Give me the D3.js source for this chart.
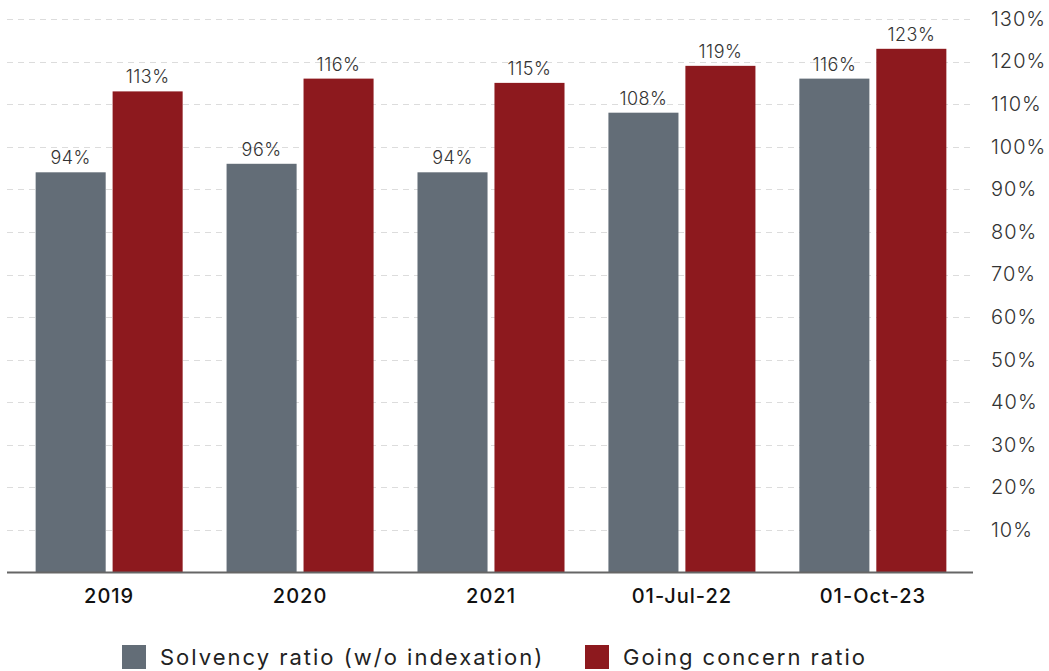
<!DOCTYPE html>
<meta charset="utf-8">
<head>
    <script src="https://d3js.org/d3.v7.min.js"></script>
    <style>
        body { margin: 0; background: #fff; }
    </style>
</head>
<body>
    <div id="chart"></div>
    <script>
        // data
        var categories = ["2019", "2020", "2021", "01-Jul-22", "01-Oct-23"];
        var seriesNames = ["Solvency ratio (w/o indexation)", "Going concern ratio"];
        var solvency = [94, 96, 94, 108, 116];
        var goingConcern = [113, 116, 115, 119, 123];
        var yTicks = [10, 20, 30, 40, 50, 60, 70, 80, 90, 100, 110, 120, 130];
        var colors = ["#636d77", "#8d191e"];

        var width = 1049, height = 671;
        var left = 7, right = 975, baseY = 572.6, topY = 19;
        var font = "Inter, 'Open Sans', sans-serif";

        var svg = d3.select("#chart")
          .append("svg")
            .attr("width", width)
            .attr("height", height);

        var x0 = d3.scaleBand()
            .domain(categories)
            .range([left, right])
            .paddingInner(0.23)
            .paddingOuter(0.15);

        var x1 = d3.scaleBand()
            .domain(seriesNames)
            .range([0, x0.bandwidth()])
            .paddingInner(0.09);

        var y = d3.scaleLinear()
            .domain([0, 130])
            .range([baseY, topY]);

        // dashed gridlines
        svg.append("g")
          .selectAll("line")
          .data(yTicks)
          .join("line")
            .attr("x1", left)
            .attr("x2", right)
            .attr("y1", function(d) { return Math.round(y(d)) + 0.5; })
            .attr("y2", function(d) { return Math.round(y(d)) + 0.5; })
            .attr("stroke", "#dcdcdc")
            .attr("stroke-width", 1)
            .attr("stroke-dasharray", "6,5");

        // right axis labels
        var yAxis = svg.append("g")
            .attr("transform", "translate(985,0)")
            .call(d3.axisRight(y).tickValues(yTicks).tickSize(0).tickPadding(6)
                .tickFormat(function(d) { return d + "%"; }));
        yAxis.select(".domain").remove();
        yAxis.selectAll("text")
            .attr("font-family", font)
            .attr("font-weight", 300)
            .attr("font-size", "20px")
            .attr("letter-spacing", "1px")
            .attr("fill", "#333");

        var rows = categories.map(function(c, i) {
            return { cat: c, values: [solvency[i], goingConcern[i]] };
        });

        var groups = svg.append("g")
          .selectAll("g")
          .data(rows)
          .join("g")
            .attr("transform", function(d) { return "translate(" + x0(d.cat) + ",0)"; });

        groups.selectAll("rect")
          .data(function(d) { return d.values.map(function(v, j) { return { s: seriesNames[j], v: v, j: j }; }); })
          .join("rect")
            .attr("x", function(d) { return x1(d.s); })
            .attr("y", function(d) { return y(d.v); })
            .attr("width", x1.bandwidth())
            .attr("height", function(d) { return baseY - y(d.v); })
            .attr("fill", function(d) { return colors[d.j]; });

        groups.selectAll("text")
          .data(function(d) { return d.values.map(function(v, j) { return { s: seriesNames[j], v: v }; }); })
          .join("text")
            .attr("x", function(d) { return x1(d.s) + x1.bandwidth() / 2; })
            .attr("y", function(d) { return y(d.v) - 8; })
            .attr("text-anchor", "middle")
            .attr("font-family", font)
            .attr("font-weight", 300)
            .attr("font-size", "18px")
            .attr("letter-spacing", "0.5px")
            .attr("fill", "#333")
            .text(function(d) { return d.v + "%"; });

        // baseline
        svg.append("line")
            .attr("x1", left)
            .attr("x2", right - 2)
            .attr("y1", baseY)
            .attr("y2", baseY)
            .attr("stroke", "#666")
            .attr("stroke-width", 2);

        // category labels
        var xAxis = svg.append("g")
            .attr("transform", "translate(0," + baseY + ")")
            .call(d3.axisBottom(x0).tickSize(0).tickPadding(16));
        xAxis.select(".domain").remove();
        xAxis.selectAll("text")
            .attr("font-family", font)
            .attr("font-weight", 500)
            .attr("font-size", "20px")
            .attr("letter-spacing", "1px")
            .attr("fill", "#111");

        // legend
        var legendX = [122, 585];
        var legend = svg.append("g")
          .selectAll("g")
          .data(seriesNames)
          .join("g")
            .attr("transform", function(d, i) { return "translate(" + legendX[i] + ",645)"; });
        legend.append("rect")
            .attr("width", 24)
            .attr("height", 24)
            .attr("fill", function(d, i) { return colors[i]; });
        legend.append("text")
            .attr("x", 38)
            .attr("y", 20)
            .attr("font-family", font)
            .attr("font-size", "22px")
            .attr("letter-spacing", "2px")
            .attr("fill", "#222")
            .text(function(d) { return d; });
    </script>
</body>
